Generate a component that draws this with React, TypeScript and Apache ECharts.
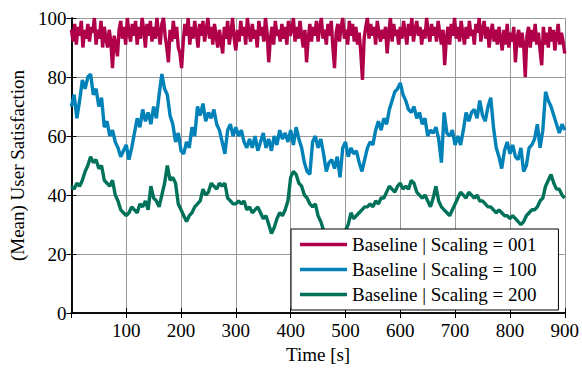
import React, { useEffect, useRef } from "react";
import * as echarts from "echarts";

const RED_STEP = 3;
const STEP = 5;
const xTicks = [0, 100, 200, 300, 400, 500, 600, 700, 800, 900];
const yTicks = [0, 20, 40, 60, 80, 100];
const seriesNames = ["Baseline | Scaling = 001", "Baseline | Scaling = 100", "Baseline | Scaling = 200"];
const seriesColors = ["#b0004a", "#0082b9", "#00725a"];

const red = [
  96, 92, 98, 91, 97, 94, 99, 90, 96, 93,
  98, 92, 97, 95, 100, 91, 96, 93, 99, 90,
  97, 93, 90, 96, 92, 83, 94, 91, 87, 96,
  99, 93, 97, 91, 100, 95, 92, 98, 94, 99,
  91, 97, 93, 100, 96, 90, 98, 94, 99, 92,
  97, 93, 100, 95, 91, 98, 100, 94, 90, 85,
  96, 92, 99, 93, 97, 90, 88, 83, 92, 98,
  94, 100, 91, 97, 93, 99, 95, 90, 98, 94,
  99, 92, 96, 100, 93, 97, 91, 98, 94, 90,
  96, 92, 88, 97, 93, 99, 91, 95, 100, 93,
  89, 96, 92, 99, 94, 97, 91, 100, 95, 92,
  98, 93, 96, 90, 99, 94, 97, 92, 100, 95,
  85, 93, 97, 91, 99, 94, 96, 92, 98, 93,
  97, 91, 99, 94, 96, 100, 92, 97, 93, 99,
  94, 90, 96, 85, 93, 98, 92, 97, 94, 99,
  92, 97, 100, 93, 96, 91, 98, 94, 99, 90,
  83, 95, 98, 92, 97, 100, 93, 96, 91, 99,
  94, 98, 92, 97, 91, 95, 88, 79, 93, 97,
  100, 93, 98, 94, 97, 91, 99, 95, 92, 96,
  93, 97, 88, 95, 100, 92, 98, 94, 96, 91,
  97, 93, 99, 95, 91, 98, 94, 100, 92, 96,
  99, 94, 97, 91, 96, 93, 100, 95, 92, 98,
  94, 97, 92, 99, 95, 91, 96, 84, 93, 97,
  91, 98, 94, 100, 93, 97, 92, 99, 95, 91,
  97, 93, 99, 94, 96, 91, 98, 95, 100, 92,
  96, 99, 93, 97, 90, 95, 98, 92, 96, 91,
  97, 93, 89, 96, 91, 98, 90, 95, 92, 97,
  85, 93, 96, 90, 95, 91, 80, 94, 97, 90,
  96, 92, 98, 91, 95, 89, 84, 97, 91, 95,
  90, 97, 92, 96, 89, 94, 98, 91, 95, 92,
  88,
];

const blue = [
  70, 74, 66, 72, 79, 76, 80, 81, 74, 76,
  70, 73, 63, 65, 60, 62, 58, 56, 53, 55,
  57, 52, 56, 61, 66, 63, 69, 65, 68, 64,
  70, 66, 74, 81, 76, 74, 67, 64, 58, 61,
  55, 54, 58, 56, 63, 60, 70, 67, 71, 65,
  68, 66, 69, 64, 62, 58, 54, 62, 64, 60,
  63, 60, 62, 58, 56, 59, 56, 60, 55, 58,
  61, 56, 59, 55, 60, 57, 62, 59, 61, 58,
  62, 57, 63, 59, 56, 51, 48, 47, 58, 60,
  56, 59, 54, 48, 51, 52, 49, 53, 46, 56,
  58, 53, 56, 54, 55, 51, 48, 52, 56, 58,
  57, 62, 65, 62, 66, 64, 69, 72, 75, 76,
  78, 74, 72, 69, 68, 70, 66, 68, 64, 66,
  60, 62, 61, 63, 59, 51, 68, 61, 60, 62,
  57, 60, 57, 62, 68, 65, 68, 69, 66, 72,
  67, 65, 70, 73, 63, 56, 53, 49, 55, 58,
  54, 57, 53, 52, 56, 48, 50, 56, 57, 59,
  64, 56, 62, 75, 72, 70, 67, 64, 61, 64,
  62,
];

const green = [
  43, 42, 44, 43, 45, 48, 50, 53, 51, 52,
  49, 50, 45, 44, 43, 45, 40, 38, 35, 34,
  33, 34, 36, 35, 34, 37, 36, 38, 35, 43,
  39, 38, 36, 40, 44, 50, 45, 46, 44, 37,
  35, 33, 31, 33, 34, 36, 37, 38, 42, 40,
  41, 44, 43, 42, 44, 43, 44, 39, 38, 37,
  37, 38, 37, 38, 35, 36, 34, 35, 36, 34,
  32, 33, 30, 27, 29, 32, 34, 33, 35, 38,
  46, 48, 47, 44, 43, 40, 39, 37, 36, 37,
  33, 31, 28, 25, 23, 22, 24, 21, 23, 25,
  28, 30, 34, 32, 33, 34, 35, 36, 36, 37,
  36, 38, 37, 39, 39, 41, 43, 42, 41, 43,
  44, 42, 43, 42, 45, 44, 41, 40, 39, 40,
  38, 36, 39, 43, 38, 36, 35, 34, 33, 35,
  37, 39, 41, 40, 39, 41, 40, 39, 40, 38,
  38, 37, 36, 36, 35, 34, 35, 34, 33, 33,
  32, 33, 32, 31, 30, 31, 33, 34, 35, 35,
  36, 38, 39, 43, 45, 47, 44, 42, 42, 40,
  39,
];

const allValues = [red, blue, green];
const allSteps = [RED_STEP, STEP, STEP];
const FONT = "Liberation Serif, Times New Roman, Times, serif";
const FS = 19;

export default function App() {
  const ref = useRef<HTMLDivElement>(null);
  useEffect(() => {
    if (!ref.current) return;
    const chart = echarts.init(ref.current, undefined, { renderer: "svg" });
    const xMin = xTicks[0];
    const xMax = xTicks[xTicks.length - 1];
    const xInt = xTicks[1] - xTicks[0];
    const yMin = yTicks[0];
    const yMax = yTicks[yTicks.length - 1];
    const yInt = yTicks[1] - yTicks[0];
    const axisLine = { show: true, lineStyle: { color: "#000", width: 1.5 } };
    const tick = { show: true, inside: true, length: 5, lineStyle: { color: "#000" } };
    const txt = { fontFamily: FONT, fontSize: FS, color: "#000" };
    chart.setOption({
      animation: false,
      backgroundColor: "#fff",
      textStyle: { fontFamily: FONT },
      grid: { left: 71, right: 14, top: 18, bottom: 47, containLabel: false },
      legend: {
        data: seriesNames,
        orient: "vertical",
        left: 291,
        top: 229,
        icon: "rect",
        itemWidth: 47,
        itemHeight: 3.5,
        itemGap: 6,
        padding: [6, 22, 6, 9],
        backgroundColor: "#fff",
        borderColor: "#000",
        borderWidth: 1,
        textStyle: { ...txt, lineHeight: 19 },
      },
      xAxis: [
        {
          type: "value",
          min: xMin,
          max: xMax,
          interval: xInt,
          position: "bottom",
          name: "Time [s]",
          nameLocation: "middle",
          nameGap: 25,
          nameTextStyle: txt,
          axisLine,
          axisTick: tick,
          axisLabel: { ...txt, showMinLabel: false, margin: 8 },
          splitLine: { show: true, lineStyle: { color: "#999", width: 1 } },
        },
        {
          type: "value",
          min: xMin,
          max: xMax,
          interval: xInt,
          position: "top",
          axisLine,
          axisTick: tick,
          axisLabel: { show: false },
          splitLine: { show: false },
        },
      ],
      yAxis: [
        {
          type: "value",
          min: yMin,
          max: yMax,
          interval: yInt,
          position: "left",
          name: "(Mean) User Satisfaction",
          nameLocation: "middle",
          nameGap: 40,
          nameTextStyle: txt,
          axisLine,
          axisTick: tick,
          axisLabel: { ...txt, margin: 5 },
          splitLine: { show: true, lineStyle: { color: "#999", width: 1 } },
        },
        {
          type: "value",
          min: yMin,
          max: yMax,
          interval: yInt,
          position: "right",
          axisLine,
          axisTick: tick,
          axisLabel: { show: false },
          splitLine: { show: false },
        },
      ],
      series: allValues.map((vals, i) => ({
        name: seriesNames[i],
        type: "line",
        xAxisIndex: 0,
        yAxisIndex: 0,
        showSymbol: false,
        symbol: "none",
        color: seriesColors[i],
        lineStyle: { color: seriesColors[i], width: 3.4 },
        data: vals.map((v, k) => [k * allSteps[i], v]),
        z: 3 - i,
      })),
    });
    return () => chart.dispose();
  }, []);
  return (
    <div
      ref={ref}
      style={{ position: "absolute", left: 0, top: 0, width: 582, height: 369 }}
    />
  );
}
